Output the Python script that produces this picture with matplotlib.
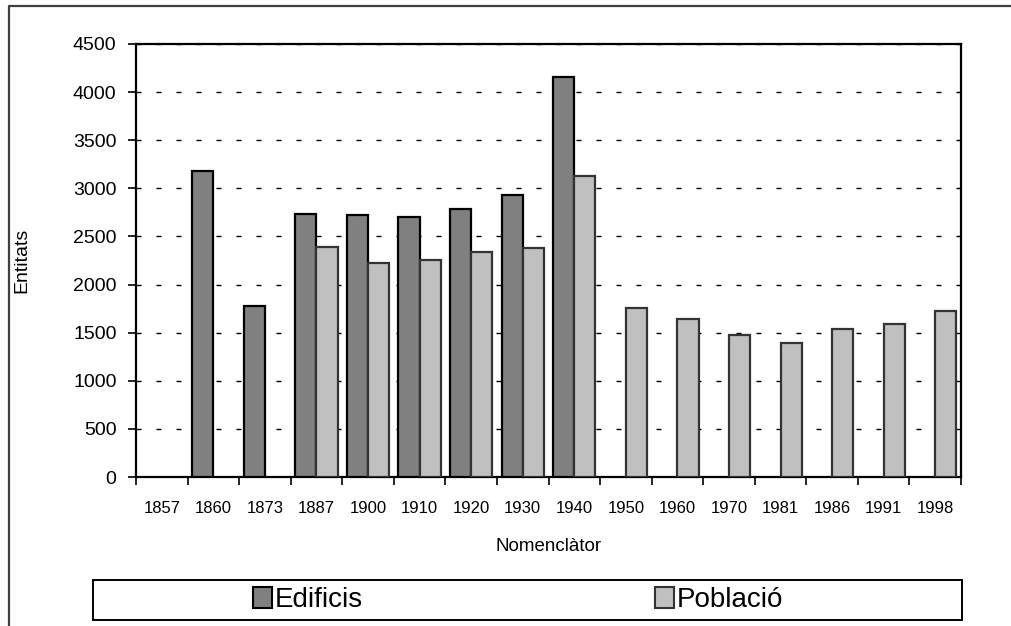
import matplotlib
matplotlib.use("Agg")
import matplotlib.pyplot as plt
from matplotlib.patches import Rectangle, Patch
from matplotlib.lines import Line2D
import numpy as np

plt.rcParams['font.family'] = ['Liberation Sans', 'DejaVu Sans']

anys = ['1857', '1860', '1873', '1887', '1900', '1910', '1920', '1930',
        '1940', '1950', '1960', '1970', '1981', '1986', '1991', '1998']
nan = np.nan
edificis = [nan, 3180, 1780, 2730, 2725, 2705, 2790, 2935, 4160,
            nan, nan, nan, nan, nan, nan, nan]
poblacio = [nan, nan, nan, 2395, 2220, 2255, 2335, 2385, 3130,
            1760, 1640, 1475, 1395, 1540, 1590, 1720]

fig = plt.figure(figsize=(10.11, 6.26), dpi=100)
ax = fig.add_axes([136/1011, 1-477/626, (961-136)/1011, (477-44)/626])

x = np.arange(len(anys))
w = 0.41
ax.bar(x - w/2, edificis, w, color='#808080', edgecolor='black', linewidth=1.6, zorder=3)
ax.bar(x + w/2, poblacio, w, color='#c0c0c0', edgecolor='#333333', linewidth=1.6, zorder=3)

ax.set_xlim(-0.5, len(anys) - 0.5)
ax.set_ylim(0, 4500)
ax.set_yticks(np.arange(0, 4501, 500))
ax.set_xticks(x)
ax.set_xticklabels(anys)
ax.set_xticks(np.arange(-0.5, len(anys)), minor=True)
ax.tick_params(axis='x', which='major', length=0, labelsize=12, pad=17)
ax.tick_params(axis='x', which='minor', length=6, width=1.2, direction='out')
ax.tick_params(axis='y', length=6, width=1.2, labelsize=14, pad=8)

ax.yaxis.grid(True, color='black', linestyle=(0, (3.6, 10.8)), linewidth=1.0, zorder=0)
for s in ax.spines.values():
    s.set_linewidth(1.6)
    s.set_color('black')

ax.set_xlabel('Nomenclàtor', fontsize=13.5, labelpad=16)
ax.set_ylabel('Entitats', fontsize=14)
ax.yaxis.set_label_coords((30 - 136) / 825, 0.5)

# outer chart frame (only top and left edges fall inside the picture)
fig.lines.append(Line2D([9/1011, 9/1011, 1.0], [0.0, 1-5.5/626, 1-5.5/626],
                        transform=fig.transFigure, color='#404040', linewidth=1.6))

# legend box
fig.patches.append(Rectangle((93/1011, 1-620/626), (962-93)/1011, 40/626,
                             transform=fig.transFigure, fill=False,
                             edgecolor='black', linewidth=1.4))
handles = [Patch(facecolor='#808080', edgecolor='black', linewidth=1.5),
           Patch(facecolor='#c0c0c0', edgecolor='#333333', linewidth=1.5)]
fig.legend(handles, ['Edificis', 'Població'], ncol=2, frameon=False,
           loc='center', bbox_to_anchor=(518/1011, 1-600/626),
           fontsize=20, handlelength=0.7, handleheight=0.8,
           handletextpad=0.1, columnspacing=10.5, borderpad=0)

fig.savefig('out.png', dpi=100)
